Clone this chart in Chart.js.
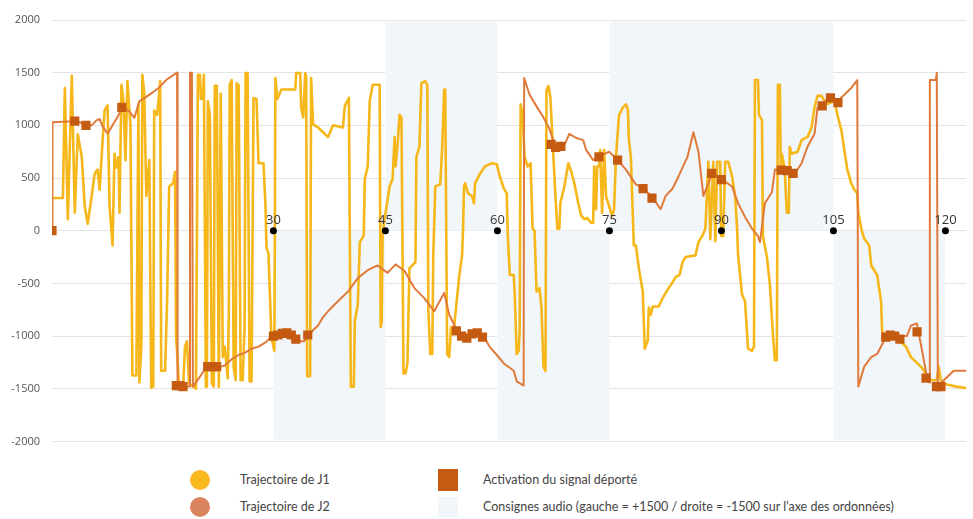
<!DOCTYPE html>
<html>
<head>
<meta charset="utf-8">
<script src="https://cdn.jsdelivr.net/npm/chart.js@4.4.1/dist/chart.umd.min.js"></script>
<style>
body { margin: 0; background: #fff; }
#wrap { position: relative; width: 973px; height: 519px; }
#c { position: absolute; left: 0; top: 0; }
.sw { position: absolute; width: 20px; height: 20px; }
.lbl { position: absolute; font: 12.5px Lato, "Open Sans", sans-serif; color: #444; line-height: 20px; white-space: nowrap; }
</style>
</head>
<body>
<div id="wrap">
<canvas id="c" width="973" height="460"></canvas>
<div class="sw" style="left:190px;top:470px;border-radius:50%;background:#f8ba1f"></div>
<div class="lbl" style="left:240px;top:470px">Trajectoire de J1</div>
<div class="sw" style="left:190px;top:497px;border-radius:50%;background:#d9845e"></div>
<div class="lbl" style="left:240px;top:497px">Trajectoire de J2</div>
<div class="sw" style="left:438px;top:469px;height:22px;background:#c55a11"></div>
<div class="lbl" style="left:483px;top:470px">Activation du signal déporté</div>
<div class="sw" style="left:438px;top:497px;background:#f1f6fb"></div>
<div class="lbl" style="left:483px;top:497px">Consignes audio (gauche = +1500 / droite = -1500 sur l’axe des ordonnées)</div>
</div>
<script>
// time (s) and lateral position of player 1
var j1T = [
    0.35, 1.81, 2.07, 2.47, 3.00, 3.40, 3.80, 4.34, 4.73, 5.13,
    5.66, 6.06, 6.46, 6.73, 7.13, 7.39, 7.79, 8.06, 8.46, 8.72,
    8.99, 9.26, 9.39, 9.65, 9.92, 10.19, 10.45, 10.85, 11.12, 11.65,
    11.92, 12.05, 12.31, 12.45, 12.71, 12.98, 13.38, 13.64, 13.91, 14.04,
    14.44, 14.84, 14.97, 15.50, 15.77, 16.04, 16.57, 16.83, 16.97, 17.37,
    17.90, 18.16, 18.43, 18.70, 19.63, 19.89, 20.16, 20.29, 20.56, 20.69,
    20.96, 21.09, 21.22, 21.49, 21.76, 22.02, 22.15, 22.42, 22.69, 22.95,
    23.22, 23.48, 23.88, 24.02, 24.15, 24.41, 24.68, 24.95, 25.08, 25.35,
    25.61, 25.88, 26.14, 26.28, 26.54, 26.81, 27.07, 27.34, 27.74, 28.01,
    28.67, 28.94, 29.07, 29.34, 29.73, 30.13, 30.27, 30.53, 31.06, 32.93,
    33.06, 33.59, 33.72, 33.99, 34.26, 34.39, 34.52, 34.92, 35.05, 35.32,
    35.98, 36.65, 37.31, 37.98, 39.31, 39.57, 40.11, 40.37, 40.77, 40.90,
    41.30, 41.57, 42.10, 42.24, 42.63, 42.90, 43.30, 44.23, 44.36, 44.50,
    44.63, 44.89, 45.56, 45.96, 46.23, 46.36, 46.62, 46.89, 47.15, 47.42,
    47.69, 47.95, 48.22, 49.02, 49.15, 49.55, 49.82, 50.35, 50.61, 50.75,
    51.01, 51.28, 51.41, 51.68, 52.34, 52.61, 52.87, 53.01, 53.27, 53.54,
    53.80, 54.20, 54.87, 55.27, 55.40, 55.53, 55.67, 56.07, 56.60, 56.87,
    57.00, 57.66, 58.33, 59.26, 59.92, 60.32, 60.86, 61.25, 61.39, 61.66,
    62.19, 62.32, 62.58, 62.85, 62.98, 63.11, 63.38, 63.64, 64.04, 64.44,
    64.71, 64.97, 65.24, 65.64, 65.90, 66.17, 66.44, 66.57, 66.84, 67.10,
    67.50, 67.77, 68.03, 68.30, 68.43, 68.96, 69.50, 69.90, 70.30, 70.83,
    71.23, 71.63, 72.03, 72.56, 72.82, 72.96, 73.22, 73.36, 73.62, 73.76,
    74.02, 74.29, 74.55, 74.95, 75.35, 75.62, 75.88, 76.28, 76.81, 77.21,
    77.47, 77.61, 77.87, 78.27, 78.54, 78.94, 79.47, 79.73, 80.13, 80.27,
    80.53, 80.80, 81.60, 82.13, 82.53, 82.93, 83.46, 83.86, 84.39, 84.79,
    85.19, 86.52, 86.92, 87.45, 87.85, 88.25, 88.51, 88.91, 89.18, 89.44,
    89.84, 89.97, 90.24, 90.50, 90.90, 91.43, 91.83, 92.10, 92.23, 92.76,
    93.16, 93.56, 94.09, 94.36, 94.49, 94.89, 95.03, 95.43, 95.56, 96.09,
    96.49, 96.89, 97.16, 97.42, 97.56, 97.82, 97.95, 98.09, 98.48, 98.75,
    99.02, 99.15, 99.41, 100.21, 100.74, 101.54, 102.07, 102.47, 102.87, 103.40,
    104.07, 105.13, 105.53, 106.06, 106.46, 106.86, 107.39, 107.79, 108.19, 108.33,
    108.73, 109.12, 109.79, 110.06, 110.85, 111.38, 111.52, 112.18, 113.78, 114.71,
    115.38, 116.71, 117.38, 118.04, 118.84, 119.10, 119.37, 120.16, 121.49, 122.82
];
var j1V = [
    310, 310, 1355, 110, 1470, 170, 915, 700, 234, 65,
    327, 540, 580, 390, 860, 1140, 1190, 234, -140, 730,
    600, 700, 170, 1385, 1230, 670, 1420, 1010, -1375, -1375,
    1200, -1440, -1100, 1480, 1300, 330, 670, -1490, -1480, 1140,
    1100, 1420, -1330, -1330, -640, 420, 450, 560, -1000, -1480,
    -1500, -1100, -1050, -1450, -1500, 1480, 1480, 1250, 1250, 1480,
    -1480, -1480, 1230, 1100, -1450, -1480, 1375, 1375, -1480, 1300,
    -1200, -1100, -1400, -830, 1385, 1430, -1300, -1420, 1400, 1380,
    -1420, -1420, -920, 1496, 1496, -1430, -1430, 1260, 1250, 640,
    640, 234, -160, -215, -1010, -1140, 1450, 1250, 1340, 1340,
    1496, 1496, 1170, 1075, 1496, 1470, -1380, -1380, 1450, 1010,
    980, 935, 888, 1000, 980, 1185, 1262, -1480, -1480, -860,
    -700, -110, -47, 490, 610, 1230, 1385, 1385, -915, -870,
    -20, 110, 420, 490, 890, 610, 800, 1100, 1075, -1356,
    -1356, -1260, -355, -300, 700, 795, 1400, 1420, 1380, -765,
    -1170, -1170, -234, 420, 440, 795, 1340, 1340, -1170, -1200,
    -915, -915, -440, -234, 20, 420, 450, 355, 327, 260,
    450, 540, 610, 640, 630, 515, 400, 355, -50, -420,
    -420, -608, -1170, -1140, -955, 1200, 1100, 700, 610, 640,
    20, 0, -580, -545, -730, -1290, -1330, 1330, 1375, 1262,
    700, 327, 20, 20, 260, 420, 640, 560, 450, 260,
    140, 110, 120, 75, 75, 610, 205, 610, 610, 765,
    170, 765, 327, 234, 140, 200, 700, 1095, 1170, 1200,
    1150, 860, 700, -140, -140, -355, -580, -1120, -1045, -730,
    -800, -720, -720, -640, -590, -545, -490, -440, -420, -300,
    -250, -234, -110, -47, 20, 655, -80, 655, -100, 655,
    655, -50, -50, 655, 655, 515, 327, 20, -234, -608,
    -670, -1120, -1140, -1100, 1430, 1430, 1100, 1050, -50, -250,
    -510, -980, -1230, -1230, 1385, 1385, 580, 730, 580, 170,
    170, 795, 730, 750, 860, 890, 980, 1170, 1280, 1280,
    1200, 1230, 1100, 955, 765, 580, 450, 390, 355, 170,
    20, -75, -140, -330, -420, -670, -955, -1010, -1040, -1100,
    -1200, -1290, -1356, -1420, -1420, -1290, -1420, -1460, -1480, -1496
];

// player 2
var j2T = [
    0.35, 0.41, 3.40, 4.07, 4.73, 5.66, 6.33, 6.73, 7.13, 7.79,
    8.46, 9.12, 9.79, 10.72, 11.38, 12.05, 12.98, 13.78, 14.71, 15.64,
    16.44, 17.10, 17.17, 18.70, 18.83, 19.09, 19.22, 19.63, 20.03, 20.69,
    21.09, 22.95, 23.48, 24.41, 25.35, 26.28, 27.07, 28.01, 28.94, 29.73,
    30.66, 31.59, 32.39, 33.32, 33.72, 34.12, 34.65, 35.98, 36.65, 37.31,
    38.64, 39.97, 41.30, 42.63, 43.96, 45.29, 46.36, 47.55, 48.88, 50.21,
    51.54, 52.87, 53.54, 54.60, 55.53, 56.60, 58.19, 58.99, 59.92, 60.86,
    62.19, 62.58, 63.51, 63.58, 64.31, 65.24, 66.17, 66.97, 67.63, 68.83,
    69.63, 70.56, 71.49, 71.89, 72.82, 73.62, 74.95, 76.14, 77.21, 78.54,
    79.60, 80.80, 81.86, 82.53, 83.46, 84.25, 85.45, 86.25, 86.92, 87.58,
    88.78, 90.11, 91.43, 92.23, 93.16, 94.09, 94.89, 95.16, 95.82, 96.76,
    97.16, 98.48, 99.81, 100.74, 101.54, 102.47, 102.87, 104.47, 105.53, 106.46,
    107.39, 108.19, 108.33, 109.12, 110.06, 110.85, 111.78, 113.12, 114.84, 115.38,
    116.18, 116.44, 117.11, 117.51, 117.84, 117.91, 118.71, 118.84, 118.98, 119.77,
    121.11, 122.82
];
var j2V = [
    0, 1030, 1040, 1030, 1000, 1000, 1050, 1060, 990, 920,
    1000, 1080, 1170, 1130, 1070, 1230, 1270, 1310, 1360, 1430,
    1470, 1500, -1480, -1480, 1500, 1500, -1480, -1440, -1400, -1330,
    -1290, -1290, -1280, -1220, -1180, -1155, -1120, -1100, -1060, -1010,
    -990, -970, -990, -1040, -1050, -1050, -990, -900, -820, -765,
    -670, -580, -450, -375, -330, -400, -320, -380, -545, -640,
    -765, -590, -795, -950, -1000, -980, -1010, -1105, -1180, -1260,
    -1330, -1430, -1470, 1450, 1290, 1180, 1075, 965, 820, 790,
    920, 880, 860, 765, 670, 700, 750, 670, 580, 440,
    400, 310, 205, 330, 400, 515, 700, 935, 750, 330,
    545, 485, 420, 260, 130, 20, -50, -110, 260, 365,
    580, 560, 540, 640, 800, 920, 1170, 1260, 1230, 1290,
    1355, 1430, -1480, -1290, -1200, -1170, -1045, -1000, -1000, -900,
    -880, -980, -1230, -1385, -1440, 1430, 1430, 1500, -1480, -1420,
    -1330, -1330
];

// activation of the remote signal
var sigT = [0.35, 3.40, 4.90, 9.70, 17.0, 17.5, 17.9, 21.2, 21.8, 22.4,
    30.0, 30.6, 31.2, 31.8, 32.4, 33.0, 34.6, 54.5, 55.2, 55.9,
    56.6, 57.3, 58.0, 67.2, 67.8, 68.5, 73.6, 76.1, 79.5, 80.7,
    88.7, 90.0, 98.0, 98.8, 99.6, 103.5, 104.6, 105.6, 112.0, 112.6,
    113.2, 113.9, 116.2, 117.4, 118.8, 119.4];
var sigV = [0, 1040, 1000, 1170, -1470, -1470, -1480, -1290, -1290, -1290,
    -1000, -990, -975, -970, -990, -1030, -990, -950, -1000, -1020,
    -980, -970, -1010, 820, 790, 800, 700, 670, 400, 310,
    545, 485, 575, 570, 545, 1185, 1260, 1215, -1010, -990,
    -1000, -1030, -960, -1400, -1480, -1480];

// audio instructions: left above the axis, right below
var bandT = [30, 45, 60, 75, 105, 120];
var bandV = [-1985, 1985, -1985, 1985, -1985, -1985];

var axisMarks = [30, 45, 60, 75, 90, 105, 120];
var yTicks = [-2000, -1500, -1000, -500, 0, 500, 1000, 1500, 2000];

function pts(t, v)
{
    return t.map(function(x, i) { return {x: x, y: v[i]}; });
}

var markLabels = {
    id: 'markLabels',
    afterDatasetsDraw: function(chart) {
	var ctx = chart.ctx;
	var xs = chart.scales.x;
	var y0 = chart.scales.y.getPixelForValue(0);
	ctx.save();
	ctx.font = '13px "Open Sans"';
	ctx.fillStyle = '#333';
	ctx.textAlign = 'center';
	axisMarks.forEach(function(m) {
	    ctx.fillText(String(m), xs.getPixelForValue(m), y0 - 7);
	});
	ctx.restore();
    }
};

new Chart(document.getElementById('c'), {
    type: 'line',
    data: {
	datasets: [{
	    order: 0,
	    data: axisMarks.map(function(m) { return {x: m, y: 0}; }),
	    showLine: false,
	    pointRadius: 3.5,
	    pointBackgroundColor: '#000',
	    pointBorderWidth: 0
	}, {
	    order: 1,
	    data: pts(sigT, sigV),
	    showLine: false,
	    pointStyle: 'rect',
	    pointRadius: 6.5,
	    pointBackgroundColor: '#c55a11',
	    pointBorderWidth: 0
	}, {
	    order: 2,
	    label: 'Trajectoire de J2',
	    data: pts(j2T, j2V),
	    borderColor: '#e07a3a',
	    borderWidth: 2,
	    borderJoinStyle: 'round',
	    pointRadius: 0
	}, {
	    order: 3,
	    label: 'Trajectoire de J1',
	    data: pts(j1T, j1V),
	    borderColor: '#f5b719',
	    borderWidth: 2.6,
	    borderJoinStyle: 'round',
	    pointRadius: 0
	}, {
	    order: 4,
	    data: pts(bandT, bandV),
	    stepped: 'before',
	    borderWidth: 0,
	    pointRadius: 0,
	    backgroundColor: '#f1f6fb',
	    fill: 'origin'
	}]
    },
    options: {
	responsive: false,
	animation: false,
	devicePixelRatio: 1,
	layout: { padding: { left: 0, right: 0, top: 20, bottom: 11 } },
	plugins: {
	    legend: { display: false },
	    tooltip: { enabled: false }
	},
	scales: {
	    x: {
		type: 'linear',
		min: 0.35,
		max: 122.82,
		display: false
	    },
	    y: {
		type: 'linear',
		min: -2000,
		max: 2000,
		afterBuildTicks: function(s) {
		    s.ticks = yTicks.map(function(v) { return {value: v}; });
		},
		afterFit: function(s) { s.width = 52; },
		border: { display: false },
		grid: { color: '#e3e3e3', drawTicks: false },
		ticks: {
		    padding: 12,
		    color: '#555',
		    font: { family: 'Open Sans', size: 11 },
		    callback: function(v) { return String(v); }
		}
	    }
	}
    },
    plugins: [markLabels]
});
</script>
</body>
</html>
